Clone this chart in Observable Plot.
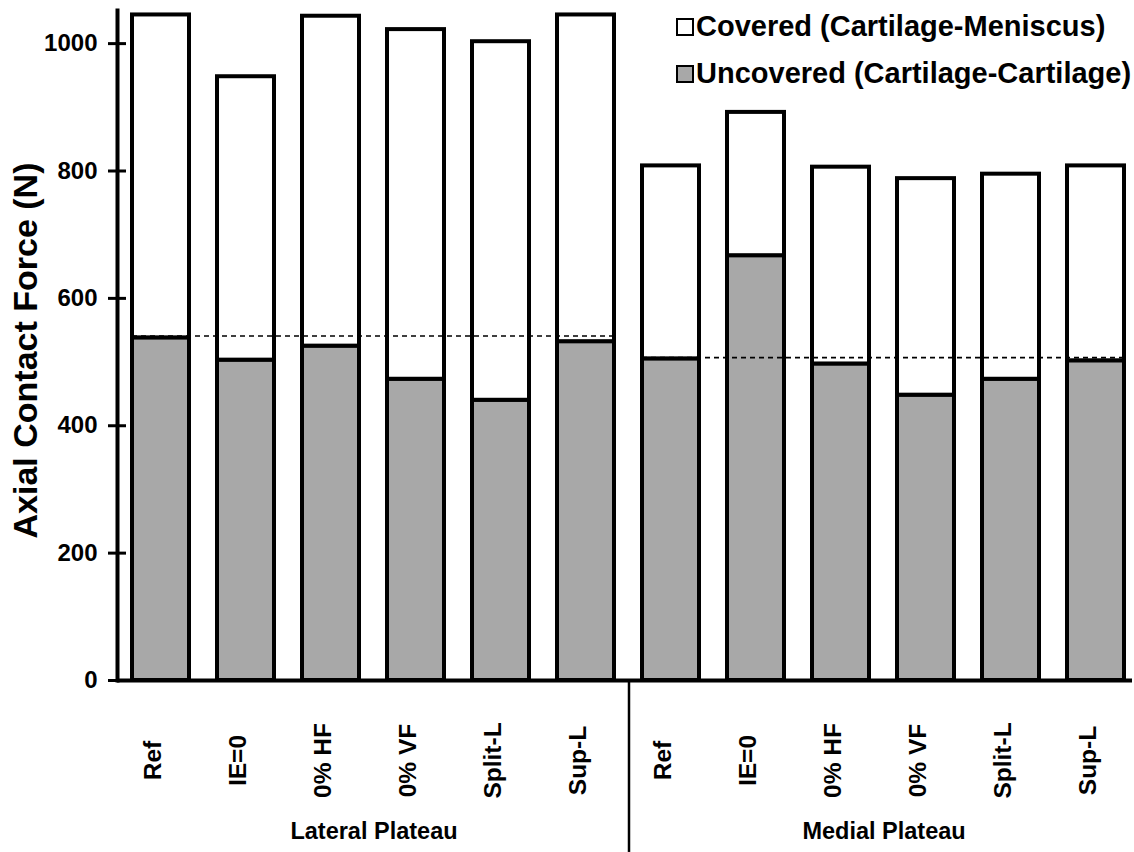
<!DOCTYPE html>
<html><head><meta charset="utf-8">
<script src="https://cdn.jsdelivr.net/npm/d3@7"></script>
<script src="https://cdn.jsdelivr.net/npm/@observablehq/plot@0.6"></script>
<style>
body{margin:0;background:#fff;}
#wrap{position:relative;width:1134px;height:852px;font-family:"Liberation Sans",Arial,sans-serif;}
.legend{position:absolute;left:676px;font-weight:bold;font-size:29px;display:flex;align-items:center;line-height:1;color:#000;}
.sw{width:14px;height:14px;border:2px solid #000;margin-right:2px;}
</style></head><body><div id="wrap"></div>
<script>
const conditions = ["Ref", "IE=0", "0% HF", "0% VF", "Split-L", "Sup-L"];
const plateaus = ["Lateral Plateau", "Medial Plateau"];
const lateralTotal = [1045, 948, 1043, 1022, 1003, 1045];
const lateralUncovered = [538, 503, 525, 473, 440, 532];
const medialTotal = [808, 892, 806, 788, 795, 808];
const medialUncovered = [505, 667, 497, 448, 473, 502];
const referenceLine = [541, 507];
const yTicks = [0, 200, 400, 600, 800, 1000];
const seriesNames = ["Covered (Cartilage-Meniscus)", "Uncovered (Cartilage-Cartilage)"];
const seriesFills = ["#ffffff", "#a8a8a8"];

const rows = [];
plateaus.forEach((p, pi) => {
  const tot = pi === 0 ? lateralTotal : medialTotal;
  const unc = pi === 0 ? lateralUncovered : medialUncovered;
  conditions.forEach((c, i) => rows.push({key: p + "|" + c, plateau: p, cond: c, total: tot[i], uncovered: unc[i]}));
});
const keys = rows.map(d => d.key);
const refRows = plateaus.map((p, pi) => ({x1: p + "|" + conditions[0], x2: p + "|" + conditions[conditions.length - 1], y: referenceLine[pi]}));
const groupRows = plateaus.map(p => ({key: p + "|" + conditions[2], label: p}));

const font = "'Liberation Sans', Arial, sans-serif";
const chart = Plot.plot({
  width: 1134, height: 852,
  marginLeft: 117, marginRight: 2, marginTop: 10, marginBottom: 172,
  style: {fontFamily: font, fontSize: "24px", fontWeight: "bold", color: "#000", background: "#fff"},
  x: {type: "band", domain: keys, paddingInner: 0.33, paddingOuter: 0.135, align: 0.65, axis: null},
  y: {domain: [0, 1052], axis: null},
  marks: [
    Plot.barY(rows, {x: "key", y1: 0, y2: "uncovered", fill: seriesFills[1], stroke: "#000", strokeWidth: 4}),
    Plot.barY(rows, {x: "key", y1: "uncovered", y2: "total", fill: seriesFills[0], stroke: "#000", strokeWidth: 4}),
    Plot.ruleY(refRows, {x1: "x1", x2: "x2", y: "y", stroke: "#000", strokeWidth: 1.6, strokeDasharray: "5,4"}),
    Plot.ruleY([0], {stroke: "#000", strokeWidth: 4}),
    Plot.frame({anchor: "left", stroke: "#000", strokeWidth: 4}),
    Plot.axisY({ticks: yTicks, tickFormat: d => String(d), tickSize: 18, dx: 9, tickPadding: 11, strokeWidth: 3, label: null, fontSize: 24, fontWeight: "bold"}),
    Plot.text(rows, {x: "key", text: "cond", frameAnchor: "bottom", dy: 80, rotate: -90, fontSize: 24.5, fontWeight: "bold", fill: "#000"}),
    Plot.text(groupRows, {x: "key", text: "label", frameAnchor: "bottom", dy: 158, dx: 43, fontSize: 23.5, fontWeight: "bold", fill: "#000"}),
    Plot.ruleX([keys[conditions.length]], {y1: 0, y2: -270, dx: -42, stroke: "#000", strokeWidth: 2.5}),
    Plot.text(["Axial Contact Force (N)"], {frameAnchor: "left", textAnchor: "middle", dx: -91, dy: 5, rotate: -90, fontSize: 34, fontWeight: "bold", fill: "#000"})
  ]
});
const wrap = document.getElementById("wrap");
wrap.appendChild(chart);
seriesNames.forEach((name, i) => {
  const div = document.createElement("div");
  div.className = "legend";
  div.style.top = (i === 0 ? 12 : 59) + "px";
  const sw = document.createElement("span");
  sw.className = "sw";
  sw.style.background = seriesFills[i];
  div.appendChild(sw);
  div.appendChild(document.createTextNode(name));
  wrap.appendChild(div);
});
</script></body></html>
